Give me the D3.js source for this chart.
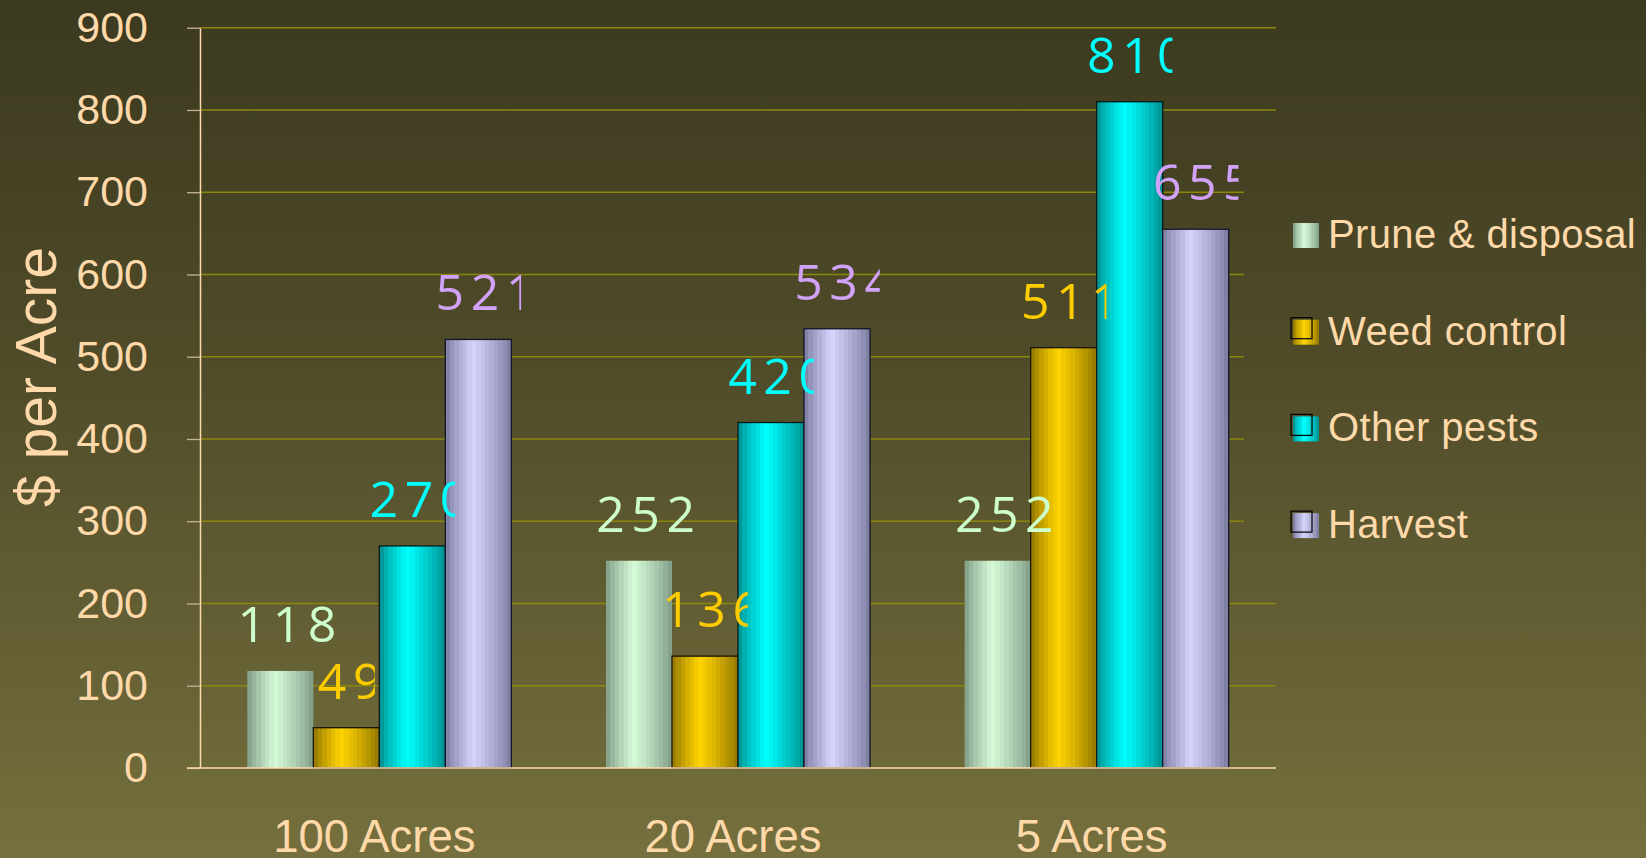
<!DOCTYPE html>
<html>
<head>
<meta charset="utf-8">
<script src="https://cdn.jsdelivr.net/npm/d3@7/dist/d3.min.js"></script>
<style>
  body { margin: 0; overflow: hidden; background: #3c3a20; }
  .tick-label { font-family: 'Liberation Sans', Arial, sans-serif; fill: #ffd9aa; }
  .bar-label { font-family: 'Open Sans', sans-serif; font-size: 50px; letter-spacing: 6.5px; }
</style>
</head>
<body>
<div id="chart"></div>
<script>
// chart data
var categories = ['100 Acres', '20 Acres', '5 Acres'];
var seriesNames = ['Prune & disposal', 'Weed control', 'Other pests', 'Harvest'];
var prune = [118, 252, 252];
var weed = [49, 136, 511];
var pests = [270, 420, 810];
var harvest = [521, 534, 655];
var yTicks = [0, 100, 200, 300, 400, 500, 600, 700, 800, 900];

var seriesValues = [prune, weed, pests, harvest];

// look of each series: dark edge, light middle, label colour, outline
var seriesStyle = [
  { dark: '#7b9782', light: '#d6fbd8', label: '#ccffcc', stroke: 'none' },
  { dark: '#8c7100', light: '#ffd400', label: '#ffcc00', stroke: '#1a1400' },
  { dark: '#008a8a', light: '#00ffff', label: '#00ffff', stroke: '#001a1a' },
  { dark: '#77779a', light: '#d4d4fc', label: '#d2a2f8', stroke: '#15152a' }
];

var width = 1646;
var height = 858;
var plotLeft = 200, plotRight = 1276, plotTop = 27.7, plotBottom = 768;

var svg = d3.select('#chart').append('svg')
  .attr('width', width)
  .attr('height', height);

var defs = svg.append('defs');

// background gradient
var bg = defs.append('linearGradient')
  .attr('id', 'bg')
  .attr('gradientUnits', 'userSpaceOnUse')
  .attr('x1', 0).attr('y1', 0).attr('x2', 0).attr('y2', height);
bg.append('stop').attr('offset', 0).attr('stop-color', '#3b391f');
bg.append('stop').attr('offset', 0.45).attr('stop-color', '#514d2a');
bg.append('stop').attr('offset', 1).attr('stop-color', '#75703d');

// cylinder-ish banded gradients for the bars
var bands = 15;
seriesStyle.forEach(function(s, i) {
  var g = defs.append('linearGradient')
    .attr('id', 'bar' + i)
    .attr('x1', 0).attr('x2', 1).attr('y1', 0).attr('y2', 0);
  var interp = d3.interpolateRgb(s.dark, s.light);
  d3.range(bands).forEach(function(k) {
    var t = (k + 0.5) / bands;
    var f = t < 0.42 ? t / 0.42 : (1 - t) / 0.58;
    f = Math.pow(Math.max(0, Math.min(1, f)), 0.8);
    var c = interp(f);
    g.append('stop').attr('offset', k / bands).attr('stop-color', c);
    g.append('stop').attr('offset', (k + 1) / bands).attr('stop-color', c);
  });
});

svg.append('rect')
  .attr('width', width)
  .attr('height', height)
  .attr('fill', 'url(#bg)');

// scales
var x0 = d3.scaleBand()
  .domain(categories)
  .range([plotLeft, plotRight])
  .padding(0);

var x1 = d3.scaleBand()
  .domain(d3.range(seriesNames.length))
  .range([0, x0.bandwidth()])
  .paddingInner(0)
  .paddingOuter(0.717);

var y = d3.scaleLinear()
  .domain([0, 900])
  .range([plotBottom, plotTop]);

// gridlines
svg.append('g')
  .selectAll('line')
  .data(yTicks.filter(function(d) { return d > 0; }))
  .enter()
  .append('line')
  .attr('x1', plotLeft)
  .attr('x2', plotRight)
  .attr('y1', function(d) { return y(d); })
  .attr('y2', function(d) { return y(d); })
  .attr('stroke', '#8a870c')
  .attr('stroke-width', 1.4);

// legend area hides the gridline ends behind it
svg.append('rect')
  .attr('x', 1244)
  .attr('y', 140)
  .attr('width', width - 1244)
  .attr('height', 430)
  .attr('fill', 'url(#bg)');

// y axis
var yAxis = d3.axisLeft(y)
  .tickValues(yTicks)
  .tickSize(13)
  .tickSizeOuter(0)
  .tickPadding(39);

var yg = svg.append('g')
  .attr('transform', 'translate(' + plotLeft + ',0)')
  .call(yAxis);
yg.select('.domain').attr('stroke', '#ffd9aa').attr('stroke-width', 1.5);
yg.selectAll('.tick line').attr('stroke', '#c4b398').attr('stroke-width', 1.3);
yg.selectAll('.tick text')
  .attr('class', 'tick-label')
  .style('font-size', '43px');

// bars
var groups = svg.append('g')
  .selectAll('g')
  .data(categories)
  .enter()
  .append('g')
  .attr('transform', function(d) { return 'translate(' + x0(d) + ',0)'; });

groups.selectAll('rect')
  .data(function(d, ci) {
    return seriesValues.map(function(vals, si) { return { s: si, v: vals[ci] }; });
  })
  .enter()
  .append('rect')
  .attr('x', function(d) { return x1(d.s); })
  .attr('y', function(d) { return y(d.v); })
  .attr('width', x1.bandwidth())
  .attr('height', function(d) { return y(0) - y(d.v); })
  .attr('fill', function(d) { return 'url(#bar' + d.s + ')'; })
  .attr('stroke', function(d) { return seriesStyle[d.s].stroke; })
  .attr('stroke-width', 1.3);

// x axis line
svg.append('line')
  .attr('x1', plotLeft - 13)
  .attr('x2', plotRight)
  .attr('y1', y(0))
  .attr('y2', y(0))
  .attr('stroke', '#ffd9aa')
  .attr('stroke-width', 1.5);

// category labels
var xAxis = d3.axisBottom(x0).tickSize(0).tickPadding(52);
var xg = svg.append('g')
  .attr('transform', 'translate(0,' + y(0) + ')')
  .call(xAxis);
xg.select('.domain').remove();
xg.selectAll('.tick text')
  .attr('class', 'tick-label')
  .attr('dx', -5)
  .style('font-size', '45.5px');

// value labels (the boxes are too narrow, so later series get cut off)
var cellW = 28.5;
var labelData = [];
categories.forEach(function(c, ci) {
  seriesValues.forEach(function(vals, si) {
    labelData.push({ c: c, s: si, v: vals[ci], t: String(vals[ci]) });
  });
});

labelData.forEach(function(d, i) {
  var cx = x0(d.c) + x1(d.s) + x1.bandwidth() / 2;
  var boxW = cellW * d.t.length;
  var startX = cx - boxW / 2;
  var baseY = y(d.v) - 29;
  var txt = svg.append('text')
    .attr('class', 'bar-label')
    .attr('x', startX)
    .attr('y', baseY)
    .attr('fill', seriesStyle[d.s].label)
    .text(d.t);
  if (d.s > 0) {
    defs.append('clipPath')
      .attr('id', 'lab' + i)
      .append('rect')
      .attr('x', startX)
      .attr('y', baseY - 60)
      .attr('width', boxW)
      .attr('height', 75);
    txt.attr('clip-path', 'url(#lab' + i + ')');
  }
});

// y axis title
svg.append('text')
  .attr('class', 'tick-label')
  .attr('text-anchor', 'middle')
  .attr('transform', 'translate(56,377) rotate(-90)')
  .style('font-size', '57px')
  .text('$ per Acre');

// legend
var legend = svg.append('g')
  .attr('transform', 'translate(1293,248)')
  .selectAll('g')
  .data(seriesNames)
  .enter()
  .append('g')
  .attr('transform', function(d, i) { return 'translate(0,' + (i * 96.7) + ')'; });

legend.append('rect')
  .attr('x', 0)
  .attr('y', -25)
  .attr('width', 26)
  .attr('height', 25)
  .attr('fill', function(d, i) { return 'url(#bar' + i + ')'; });

legend.filter(function(d, i) { return i > 0; })
  .append('rect')
  .attr('x', -2)
  .attr('y', -27)
  .attr('width', 21)
  .attr('height', 21)
  .attr('fill', 'none')
  .attr('stroke', '#000')
  .attr('stroke-width', 1.2);

legend.append('text')
  .attr('class', 'tick-label')
  .attr('x', 35)
  .attr('y', 0)
  .style('font-size', '40px')
  .style('letter-spacing', '0.35px')
  .text(function(d) { return d; });
</script>
</body>
</html>
